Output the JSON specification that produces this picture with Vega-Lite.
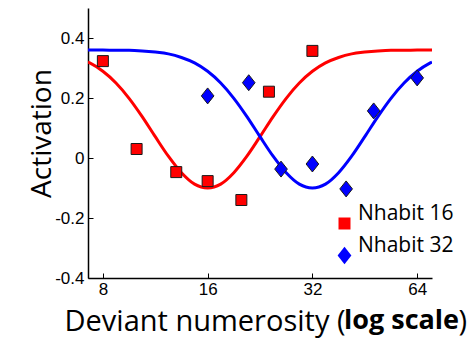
{
  "$schema": "https://vega.github.io/schema/vega-lite/v6.json",
  "width": 344,
  "height": 270,
  "autosize": "none",
  "padding": {"left": 88, "top": 8, "right": 40, "bottom": 62},
  "background": "white",
  "config": {"view": {"stroke": null}, "font": "Open Sans"},
  "title": {"text": "log scale", "orient": "bottom", "anchor": "start", "frame": "group", "font": "Open Sans", "fontSize": 27, "fontWeight": "bold", "color": "black", "dx": 256, "offset": -7, "baseline": "alphabetic"},
  "datasets": {
    "curves": [
      {"x": 7.245, "y": 0.320, "group": "Nhabit 16"},
      {"x": 7.336, "y": 0.317, "group": "Nhabit 16"},
      {"x": 8, "y": 0.289, "group": "Nhabit 16"},
      {"x": 8.724, "y": 0.250, "group": "Nhabit 16"},
      {"x": 9.514, "y": 0.199, "group": "Nhabit 16"},
      {"x": 10.375, "y": 0.138, "group": "Nhabit 16"},
      {"x": 11.314, "y": 0.071, "group": "Nhabit 16"},
      {"x": 12.338, "y": 0.006, "group": "Nhabit 16"},
      {"x": 13.454, "y": -0.049, "group": "Nhabit 16"},
      {"x": 14.672, "y": -0.087, "group": "Nhabit 16"},
      {"x": 16, "y": -0.100, "group": "Nhabit 16"},
      {"x": 17.448, "y": -0.087, "group": "Nhabit 16"},
      {"x": 19.027, "y": -0.049, "group": "Nhabit 16"},
      {"x": 20.749, "y": 0.006, "group": "Nhabit 16"},
      {"x": 22.627, "y": 0.071, "group": "Nhabit 16"},
      {"x": 24.675, "y": 0.138, "group": "Nhabit 16"},
      {"x": 26.909, "y": 0.199, "group": "Nhabit 16"},
      {"x": 29.344, "y": 0.250, "group": "Nhabit 16"},
      {"x": 32, "y": 0.289, "group": "Nhabit 16"},
      {"x": 34.896, "y": 0.317, "group": "Nhabit 16"},
      {"x": 38.055, "y": 0.335, "group": "Nhabit 16"},
      {"x": 41.499, "y": 0.347, "group": "Nhabit 16"},
      {"x": 45.255, "y": 0.353, "group": "Nhabit 16"},
      {"x": 49.351, "y": 0.357, "group": "Nhabit 16"},
      {"x": 53.817, "y": 0.359, "group": "Nhabit 16"},
      {"x": 58.688, "y": 0.359, "group": "Nhabit 16"},
      {"x": 64, "y": 0.360, "group": "Nhabit 16"},
      {"x": 69.793, "y": 0.360, "group": "Nhabit 16"},
      {"x": 70.6, "y": 0.360, "group": "Nhabit 16"},
      {"x": 7.245, "y": 0.360, "group": "Nhabit 32"},
      {"x": 7.336, "y": 0.360, "group": "Nhabit 32"},
      {"x": 8, "y": 0.360, "group": "Nhabit 32"},
      {"x": 8.724, "y": 0.359, "group": "Nhabit 32"},
      {"x": 9.514, "y": 0.359, "group": "Nhabit 32"},
      {"x": 10.375, "y": 0.357, "group": "Nhabit 32"},
      {"x": 11.314, "y": 0.353, "group": "Nhabit 32"},
      {"x": 12.338, "y": 0.347, "group": "Nhabit 32"},
      {"x": 13.454, "y": 0.335, "group": "Nhabit 32"},
      {"x": 14.672, "y": 0.317, "group": "Nhabit 32"},
      {"x": 16, "y": 0.289, "group": "Nhabit 32"},
      {"x": 17.448, "y": 0.250, "group": "Nhabit 32"},
      {"x": 19.027, "y": 0.199, "group": "Nhabit 32"},
      {"x": 20.749, "y": 0.138, "group": "Nhabit 32"},
      {"x": 22.627, "y": 0.071, "group": "Nhabit 32"},
      {"x": 24.675, "y": 0.006, "group": "Nhabit 32"},
      {"x": 26.909, "y": -0.049, "group": "Nhabit 32"},
      {"x": 29.344, "y": -0.087, "group": "Nhabit 32"},
      {"x": 32, "y": -0.100, "group": "Nhabit 32"},
      {"x": 34.896, "y": -0.087, "group": "Nhabit 32"},
      {"x": 38.055, "y": -0.049, "group": "Nhabit 32"},
      {"x": 41.499, "y": 0.006, "group": "Nhabit 32"},
      {"x": 45.255, "y": 0.071, "group": "Nhabit 32"},
      {"x": 49.351, "y": 0.138, "group": "Nhabit 32"},
      {"x": 53.817, "y": 0.199, "group": "Nhabit 32"},
      {"x": 58.688, "y": 0.250, "group": "Nhabit 32"},
      {"x": 64, "y": 0.289, "group": "Nhabit 32"},
      {"x": 69.793, "y": 0.317, "group": "Nhabit 32"},
      {"x": 70.6, "y": 0.320, "group": "Nhabit 32"}
    ],
    "points": [
      {"x": 8, "y": 0.323, "group": "Nhabit 16"},
      {"x": 10, "y": 0.03, "group": "Nhabit 16"},
      {"x": 13, "y": -0.047, "group": "Nhabit 16"},
      {"x": 16, "y": -0.077, "group": "Nhabit 16"},
      {"x": 20, "y": -0.14, "group": "Nhabit 16"},
      {"x": 24, "y": 0.221, "group": "Nhabit 16"},
      {"x": 32, "y": 0.357, "group": "Nhabit 16"},
      {"x": 16, "y": 0.207, "group": "Nhabit 32"},
      {"x": 21, "y": 0.251, "group": "Nhabit 32"},
      {"x": 26, "y": -0.037, "group": "Nhabit 32"},
      {"x": 32, "y": -0.02, "group": "Nhabit 32"},
      {"x": 40, "y": -0.103, "group": "Nhabit 32"},
      {"x": 48, "y": 0.157, "group": "Nhabit 32"},
      {"x": 64, "y": 0.267, "group": "Nhabit 32"}
    ]
  },
  "encoding": {
    "x": {
      "field": "x", "type": "quantitative",
      "scale": {"type": "log", "base": 2, "domain": [7.25, 70.6], "nice": false, "zero": false},
      "axis": {
        "values": [8, 16, 32, 64], "format": "d", "grid": false,
        "domainColor": "black", "domainWidth": 1.5, "tickColor": "black", "tickSize": -5, "tickWidth": 1,
        "labelFont": "Liberation Sans", "labelFontSize": 17, "labelColor": "black", "labelPadding": 8, "labelFlush": false,
        "title": "Deviant numerosity (\u00a0\u00a0\u00a0\u00a0\u00a0\u00a0\u00a0\u00a0\u00a0\u00a0\u00a0\u00a0\u00a0\u00a0\u00a0)",
        "titleFont": "Open Sans", "titleFontSize": 29, "titleFontWeight": "normal", "titleColor": "black",
        "titleAnchor": "start", "titleAlign": "left", "titleBaseline": "alphabetic", "titleX": -24, "titleY": 52
      }
    },
    "y": {
      "field": "y", "type": "quantitative",
      "scale": {"domain": [-0.4, 0.5], "nice": false, "zero": false},
      "axis": {
        "values": [-0.4, -0.2, 0, 0.2, 0.4], "grid": false,
        "labelExpr": "datum.value == 0 ? '0' : (datum.value < 0 ? '-' + format(-datum.value, '.1f') : format(datum.value, '.1f'))",
        "domainColor": "black", "domainWidth": 1.5, "tickColor": "black", "tickSize": -5, "tickWidth": 1,
        "labelFont": "Liberation Sans", "labelFontSize": 17, "labelColor": "black", "labelPadding": 9,
        "title": "Activation", "titleFont": "Open Sans", "titleFontSize": 28, "titleFontWeight": "normal", "titleColor": "black",
        "titleAngle": -90, "titleAlign": "center", "titleBaseline": "alphabetic", "titleX": -38, "titleY": 125
      }
    }
  },
  "layer": [
    {
      "data": {"name": "curves"},
      "transform": [{"filter": "datum.group == 'Nhabit 16'"}],
      "mark": {"type": "line", "strokeWidth": 3, "interpolate": "monotone", "clip": true, "color": "#ff0000"},
      "encoding": {}
    },
    {
      "data": {"name": "curves"},
      "transform": [{"filter": "datum.group == 'Nhabit 32'"}],
      "mark": {"type": "line", "strokeWidth": 3, "interpolate": "monotone", "clip": true, "color": "#0000ff"},
      "encoding": {}
    },
    {
      "data": {"name": "points"},
      "mark": {"type": "point", "filled": true, "opacity": 1, "size": 121, "stroke": "#1a1a1a", "strokeWidth": 1},
      "encoding": {
        "shape": {
          "field": "group", "type": "nominal",
          "scale": {"domain": ["Nhabit 16", "Nhabit 32"], "range": ["square", "M0,-1.45L1.15,0L0,1.45L-1.15,0Z"]},
          "legend": {
            "orient": "none", "legendX": 246, "legendY": 205, "title": null, "padding": 0,
            "labelFont": "Open Sans", "labelFontSize": 21, "labelColor": "black", "labelOffset": 3, "labelBaseline": "bottom",
            "symbolStrokeWidth": 0, "symbolSize": 144, "rowPadding": 4
          }
        },
        "color": {
          "field": "group", "type": "nominal",
          "scale": {"domain": ["Nhabit 16", "Nhabit 32"], "range": ["#ff0000", "#0000ff"]},
          "legend": {
            "orient": "none", "legendX": 246, "legendY": 205, "title": null, "padding": 0,
            "labelFont": "Open Sans", "labelFontSize": 21, "labelColor": "black", "labelOffset": 3, "labelBaseline": "bottom",
            "symbolStrokeWidth": 0, "symbolSize": 144, "rowPadding": 4
          }
        }
      }
    }
  ]
}
